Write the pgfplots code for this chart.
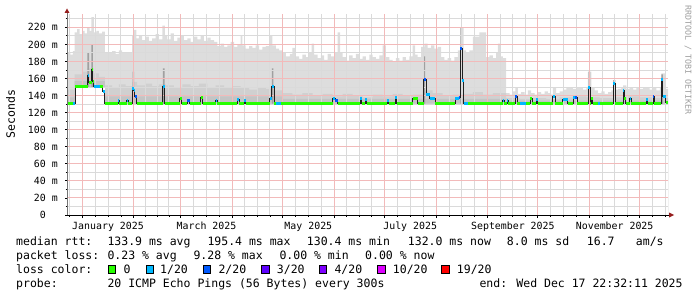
\documentclass[border=0pt]{standalone}
\usepackage{fontspec}
\setmainfont{DejaVu Sans Mono}
\usepackage{pgfplots}
\usepackage{pgfplotstable}
\pgfplotsset{compat=1.18}
\definecolor{mgrid}{RGB}{242,186,186}
\definecolor{ngrid}{RGB}{218,218,218}
\definecolor{smokeA}{RGB}{221,221,221}
\definecolor{smokeB}{RGB}{208,208,208}
\definecolor{smokeC}{RGB}{196,196,196}
\definecolor{streak}{RGB}{160,160,160}
\definecolor{l0}{RGB}{38,255,0}
\definecolor{l1}{RGB}{0,184,255}
\definecolor{l2}{RGB}{0,89,255}
\definecolor{l3}{RGB}{94,0,255}
\definecolor{l4}{RGB}{126,0,255}
\definecolor{l10}{RGB}{221,0,255}
\definecolor{l19}{RGB}{255,0,0}
\definecolor{arrowred}{RGB}{150,30,30}
\definecolor{medline}{RGB}{32,32,32}
\newcommand\lf{\fontsize{11.5bp}{13bp}\selectfont}
\newcommand\tf{\fontsize{9.9bp}{11bp}\selectfont}

% smoke: outer envelope (max ping)
\pgfplotstableread{
x y
-9.06 190
-7 188
-5.5 192
-4.5 214
-3 218
-1.5 212
0 216
1.5 213
3 220
4.5 216
5.5 232
7 214
8.5 216
10 213
12 215
13.6 191
16 190
18 192
20 189
22 193
24 190
26 191
28 190
30 210
31 217
32.5 207
34 211
36 205
38 209
40 204
42 207
44 212
46 206
48 222
49.5 210
51 206
53 213
55 204
57 208
59 211
61 205
63 207
65 203
67 209
69 206
71 210
73 204
75 208
77 205
79 203
81 198
83 201
85 197
87 199
89 203
91 197
93 200
95 210
96 199
98 195
100 198
102 196
104 199
106 194
108 197
110 198
112 210
114 199
116 195
118 193
120 191
122 186
124.5 189
126 196
127.5 186
130 183
132 188
134 185
136 190
137.5 201
139 188
141 184
143 187
145 182
147 189
149 186
151 190
153 214
154.5 190
156 185
158 181
160 187
162 184
164 189
166 183
168 186
170 182
172 188
174 185
176 183
178 187
180 199
182 185
184 182
186 180
188 184
190 181
192 185
194 182
196 186
198 199
199.5 188
201 185
203 197
205 201
207 196
209 199
211 195
213 197
215 185
217 182
219 184
221 181
223 185
225 193
227 220
228.5 193
230 190
232 193
234 209
238 214
242 185
244 187
246 184
248 190
249 201
250.5 186
252 184
254 143
256 141
258 145
259.5 150
261 142
263 144
265 141
267 146
269 143
271 141
273 144
275 142
277 145
279 143
281 141
282 150
284 143
286 145
288 147
290 149
292 150
294 148
296 150
298 149
300 147
302 150
303 168
305 149
307 146
309 143
311 145
313 142
315 144
317 146
318 158
319.5 147
321 148
323 149
324 152
326 148
328 150
330 147
332 149
334 148
336 150
338 149
340 147
342 149
344 146
346 150
347 166
349 148
350.94 148
}\smokeouter

\pgfplotstableread{
x y
-9.06 147
-4.5 165
0 168
3 172
7 166
10 162
13.6 152
18 150
22 153
26 151
30 156
33 152
38 154
42 151
46 153
50 152
55 150
60 153
65 151
70 154
75 150
80 152
85 149
90 151
95 149
100 147
105 149
110 148
115 146
120 143
126 141
132 143
138 140
144 142
150 139
156 142
162 140
168 138
174 141
180 139
186 142
192 140
198 141
204 146
210 143
216 140
222 141
228 142
234 144
240 141
246 143
254 137
262 136
270 137
278 136
286 138
294 139
302 138
310 137
318 138
326 139
334 138
342 137
350.94 137
}\smokemid

\pgfplotstableread{
x y
-9.06 138
-4.5 157
13.6 139
120 136
254 134
350.94 134
}\smokeinner

\pgfplotstableread{
x y
-9.06 0
3.2 190
4.2 0
5.6 200
6.5 0
30.2 168
31.2 0
48.4 172
49.4 0
113.6 172
114.6 0
204.5 186
205.5 0
226.5 220
227.5 0
303.4 168
304.3 0
318.2 158
319.2 0
346.9 165
347.8 0
350.94 0
}\streaks

\pgfplotstableread{
x y
-9.06 130.3
-4 150
13.6 130.3
350.94 130.3
}\minping

\pgfplotstableread{
x y
-9.06 131
-4 150.5
3.3 164
4.0 155
5.7 170
6.3 156
7.0 150.5
12.5 145
13.6 131
21.5 134.5
22.3 131
26.7 134
27.5 131
30.0 148.5
30.8 146
31.5 139
32.8 131
48.3 151
49.6 131
58.6 137
59.6 131
63 134
64.5 131
71 138
72.3 131
80 134
80.8 131
93 135
94 131
97 134.5
98 131
112.3 136
113.7 151
115.2 131
150 136
151.5 134
153 131
166.5 137
167.5 131
169.5 135
170.5 131
182.8 134
183.6 131
187.5 137.5
188.5 131
198 137
201 131
204.5 159.4
206 141.5
208.3 137
211.5 131
223.5 136
225.5 138
226.6 195.4
227.6 158
228.5 131
252 134.8
253 131
254.5 134.8
255.3 131
259.5 139.5
260.5 131
268.5 136.8
269.7 131
272 135
272.8 131
282 139.5
283.5 131
288 135.6
291 131
294.3 138
296.5 131
303.3 149.7
304.5 131
305 136
305.8 131
318 154.4
319.3 131
324 146.5
324.8 137
325.7 131
328 137
328.8 131
338 135
338.8 131
342 138.7
342.8 131
346.8 159.4
347.8 139.5
349.5 132
350.94 132
}\median

\begin{document}
\begin{tikzpicture}[x=1bp,y=1bp]
\begin{axis}[
  at={(67bp,82bp)}, anchor=south west,
  x=1.6694bp, y=0.853bp,
  xmin=-9.06, xmax=350.94, ymin=0, ymax=235.6,
  set layers,
  axis line style={draw=none},
  tick pos=left,
  tick align=outside,
  xtick={-7.75,7.75,15.5,23.25,38,45,52,66.75,74.5,82.25,97.5,105,112.5,127.75,135.5,143.25,158.5,166,173.5,188.75,196.5,204.25,219.75,227.5,235.25,250.5,258,265.5,280.75,288.5,296.25,311.5,319,326.5,341.75,349.5},
  xticklabels={{},{},January 2025,{},{},{},{},{},March 2025,{},{},{},{},{},May 2025,{},{},{},{},{},July 2025,{},{},{},{},{},September 2025,{},{},{},{},{},November 2025,{},{},{}},
  extra x ticks={0,31,59,90,120,151,181,212,243,273,304,334},
  extra x tick labels={},
  extra x tick style={major tick length=3bp},
  ytick={10,30,50,70,90,110,130,150,170,190,210,230},
  yticklabels={},
  extra y ticks={0,20,40,60,80,100,120,140,160,180,200,220},
  extra y tick labels={0\phantom{xx},20 m,40 m,60 m,80 m,100 m,120 m,140 m,160 m,180 m,200 m,220 m},
  extra y tick style={major tick length=2bp},
  major tick length=1.5bp,
  tick style={black, line width=0.8bp},
  xticklabel style={font=\tf, anchor=base, inner sep=0pt, yshift=-13.2bp},
  yticklabel style={font=\tf, anchor=east, inner sep=0pt, xshift=-7bp},
]
\addplot[on layer=axis background, const plot, fill=smokeA, draw=none] table {\smokeouter} \closedcycle;
\addplot[on layer=axis background, const plot, fill=smokeB, draw=none] table {\smokemid} \closedcycle;
\addplot[on layer=axis background, const plot, fill=smokeC, draw=none] table {\smokeinner} \closedcycle;
\addplot[on layer=axis background, const plot, fill=streak, draw=none] table {\streaks} \closedcycle;
\addplot[on layer=axis background, const plot, fill=white, draw=none] table {\minping} \closedcycle;

% grid lines (dotted in the original; drawn as light solid lines)
\begin{pgfonlayer}{axis grid}
\pgfplotsinvokeforeach{-7.75,7.75,15.5,23.25,38,45,52,66.75,74.5,82.25,97.5,105,112.5,127.75,135.5,143.25,158.5,166,173.5,188.75,196.5,204.25,219.75,227.5,235.25,250.5,258,265.5,280.75,288.5,296.25,311.5,319,326.5,341.75,349.5}{
  \draw[ngrid, line width=0.9bp] (axis cs:#1,0) -- (axis cs:#1,235.6);
}
\pgfplotsinvokeforeach{10,30,50,70,90,110,130,150,170,190,210,230}{
  \draw[ngrid, line width=0.9bp] (axis cs:-9.06,#1) -- (axis cs:350.94,#1);
}
\pgfplotsinvokeforeach{0,31,59,90,120,151,181,212,243,273,304,334}{
  \draw[mgrid, line width=0.9bp] (axis cs:#1,0) -- (axis cs:#1,235.6);
}
\pgfplotsinvokeforeach{20,40,60,80,100,120,140,160,180,200,220}{
  \draw[mgrid, line width=0.9bp] (axis cs:-9.06,#1) -- (axis cs:350.94,#1);
}
\end{pgfonlayer}

\addplot[const plot, medline, line width=1bp] table {\median};
\addplot[jump mark left, l0, line width=3bp] table {\median};
\addplot[sharp plot, l1, line width=3bp, unbounded coords=jump] coordinates {
(-5.2,131)(-4,131)(-4,nan)
(3.3,164)(4.0,164)(4.0,nan)
(7.0,150.5)(11,150.5)(11,nan)
(12.5,145)(13.6,145)(13.6,nan)
(21.5,134.5)(22.3,134.5)(22.3,nan)
(26.7,134)(27.5,134)(27.5,nan)
(30.0,148.5)(30.8,148.5)(30.8,nan)
(30.8,146)(31.5,146)(31.5,nan)
(48.3,151)(49.6,151)(49.6,nan)
(80,134)(80.8,134)(80.8,nan)
(93,135)(94,135)(94,nan)
(97,134.5)(98,134.5)(98,nan)
(112.3,136)(113.7,136)(113.7,nan)
(113.7,151)(115.2,151)(115.2,nan)
(116,131)(119,131)(119,nan)
(150,136)(151.5,136)(151.5,nan)
(166.5,137)(167.5,137)(167.5,nan)
(169.5,135)(170.5,135)(170.5,nan)
(182.8,134)(183.6,134)(183.6,nan)
(187.5,137.5)(188.5,137.5)(188.5,nan)
(206,141.5)(208.3,141.5)(208.3,nan)
(208.3,137)(211.5,137)(211.5,nan)
(223.5,136)(225.5,136)(225.5,nan)
(227.6,158)(228.5,158)(228.5,nan)
(229,131)(231,131)(231,nan)
(252,134.8)(253,134.8)(253,nan)
(254.5,134.8)(255.3,134.8)(255.3,nan)
(262,131)(266,131)(266,nan)
(272,135)(272.8,135)(272.8,nan)
(282,139.5)(283.5,139.5)(283.5,nan)
(288,135.6)(291,135.6)(291,nan)
(294.3,138)(295.5,138)(295.5,nan)
(303.3,149.7)(304.5,149.7)(304.5,nan)
(309,131)(310,131)(310,nan)
(318,154.4)(319.3,154.4)(319.3,nan)
(324,146.5)(324.8,146.5)(324.8,nan)
(328,137)(328.8,137)(328.8,nan)
(338,135)(338.8,135)(338.8,nan)
(346.8,159.4)(347.8,159.4)(347.8,nan)
(347.8,139.5)(349.5,139.5)
};
\addplot[sharp plot, l2, line width=3bp, unbounded coords=jump] coordinates {
(31.5,139)(32.8,139)(32.8,nan)
(63,134)(64.5,134)(64.5,nan)
(151.5,134)(153,134)(153,nan)
(204.5,159.4)(206,159.4)(206,nan)
(225.5,138)(226.6,138)(226.6,nan)
(226.6,195.4)(227.6,195.4)(227.6,nan)
(259.5,139.5)(260.5,139.5)(260.5,nan)
(295.5,138)(296.5,138)(296.5,nan)
(342,138.7)(342.8,138.7)
};
\end{axis}
% axis lines with arrows
\draw[black, line width=1bp] (66.5,82) -- (669,82);
\fill[arrowred] (669,79.5) -- (674,82) -- (669,84.5) -- cycle;
\draw[black!55, line width=1bp] (67,82) -- (67,284);
\fill[arrowred] (64.5,284) -- (67,288.5) -- (69.5,284) -- cycle;
% labels
\node[rotate=90, font=\lf, inner sep=0pt] at (10.5,183) {Seconds};
\node[rotate=-90, font=\fontsize{8.3bp}{9bp}\selectfont, text=black!38, inner sep=0pt] at (688,237) {RRDTOOL / TOBI OETIKER};
\begin{scope}[every node/.style={anchor=base west, inner sep=0pt, font=\lf}]
\node at (16,51.7) {median rtt:};
\node at (107.3,51.7) {133.9 ms avg};
\node at (207.3,51.7) {195.4 ms max};
\node at (306.7,51.7) {130.4 ms min};
\node at (407.7,51.7) {132.0 ms now};
\node at (506.7,51.7) {8.0 ms sd};
\node at (586.7,51.7) {16.7};
\node at (635.7,51.7) {am/s};
\node at (16,37.7) {packet loss:};
\node at (107.3,37.7) {0.23 \% avg};
\node at (193.3,37.7) {9.28 \% max};
\node at (279.3,37.7) {0.00 \% min};
\node at (365,37.7) {0.00 \% now};
\node at (16,23.7) {loss color:};
\filldraw[fill=l0, draw=black, line width=0.8bp] (108.7,23.9) rectangle (115.7,31.2);
\node at (123.3,23.7) {0};
\filldraw[fill=l1, draw=black, line width=0.8bp] (146,23.9) rectangle (153.3,31.2);
\node at (160,23.7) {1/20};
\filldraw[fill=l2, draw=black, line width=0.8bp] (203.3,23.9) rectangle (210.7,31.2);
\node at (218.3,23.7) {2/20};
\filldraw[fill=l3, draw=black, line width=0.8bp] (261.7,23.9) rectangle (269,31.2);
\node at (276.7,23.7) {3/20};
\filldraw[fill=l4, draw=black, line width=0.8bp] (319.3,23.9) rectangle (326.7,31.2);
\node at (334.3,23.7) {4/20};
\filldraw[fill=l10, draw=black, line width=0.8bp] (377.3,23.9) rectangle (385,31.2);
\node at (392.7,23.7) {10/20};
\filldraw[fill=l19, draw=black, line width=0.8bp] (441.7,23.9) rectangle (449.3,31.2);
\node at (456.7,23.7) {19/20};
\node at (16,9.7) {probe:};
\node at (107.3,9.7) {20 ICMP Echo Pings (56 Bytes) every 300s};
\node at (479.3,9.7) {end: Wed Dec 17 22:32:11 2025};
\end{scope}
\pgfresetboundingbox
\useasboundingbox (0,0) rectangle (697,297);
\end{tikzpicture}
\end{document}
